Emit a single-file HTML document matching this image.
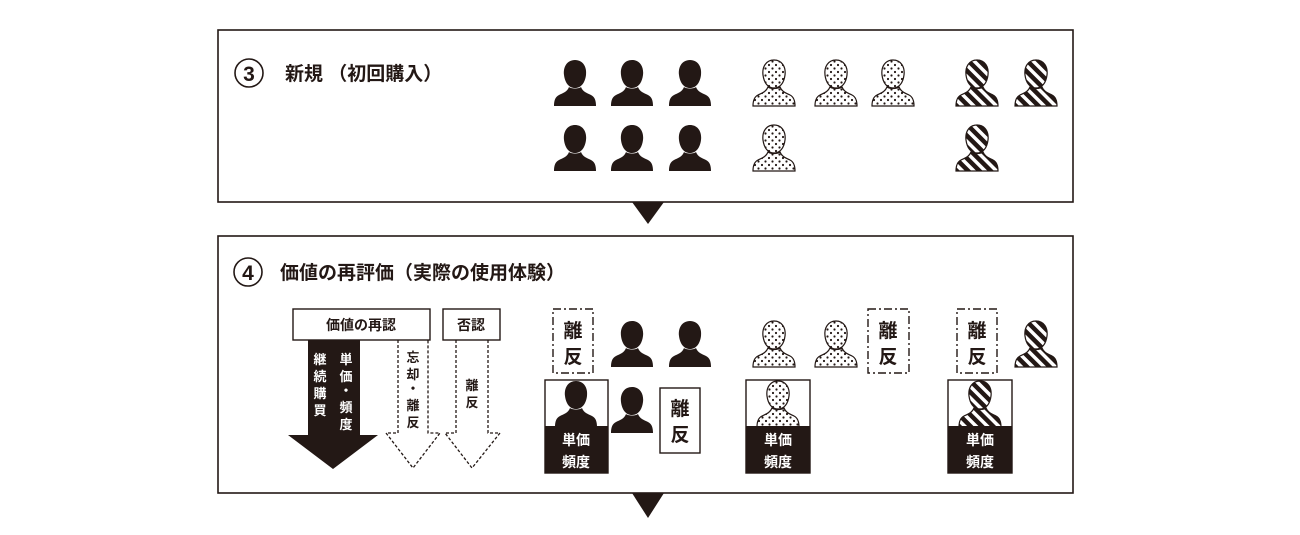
<!DOCTYPE html>
<html><head><meta charset="utf-8"><style>
html,body{margin:0;padding:0;background:#fff}
svg text{font-family:"Liberation Sans","Noto Sans CJK JP",sans-serif;font-weight:bold;fill:#231815}
</style></head><body>
<svg width="1300" height="530" viewBox="0 0 1300 530" xmlns="http://www.w3.org/2000/svg">
<defs>
<pattern id="dots" width="7" height="7" patternUnits="userSpaceOnUse"><rect width="7" height="7" fill="#fff"/><circle cx="2" cy="2" r="1.1" fill="#231815"/><circle cx="5.5" cy="5.5" r="1.1" fill="#231815"/></pattern>
<pattern id="stripes" width="8" height="8" patternUnits="userSpaceOnUse" patternTransform="rotate(-45)"><rect width="8" height="8" fill="#fff"/><rect width="4.5" height="8" fill="#231815"/></pattern>
<path id="p" d="M0,-24 C8,-24 12,-17 11,-9 C10,-1 6,4 0,4 C-6,4 -10,-1 -11,-9 C-12,-17 -8,-24 0,-24 Z M-6,3 C-8,8 -12,9 -16,11 C-20,13 -21,17 -21,22 L21,22 C21,17 20,13 16,11 C12,9 8,8 6,3 C4,5 -4,5 -6,3 Z"/>
</defs>
<g fill="none" stroke="#231815" stroke-width="1.6">
<rect x="218" y="30" width="855" height="172"/>
<rect x="218" y="236" width="855" height="257"/>
</g>
<polygon points="632,202 664,202 648,224" fill="#231815"/>
<polygon points="632,493 664,493 648,518" fill="#231815"/>
<circle cx="249" cy="73" r="14" fill="none" stroke="#231815" stroke-width="1.6"/>
<text x="249" y="81" font-size="21" text-anchor="middle" font-weight="normal">3</text>
<text x="285" y="80" font-size="19">新規 （初回購入）</text>
<circle cx="248" cy="272" r="14" fill="none" stroke="#231815" stroke-width="1.6"/>
<text x="248" y="280" font-size="21" text-anchor="middle" font-weight="normal">4</text>
<text x="280" y="279" font-size="19">価値の再評価（実際の使用体験）</text>
<!-- top persons -->
<g fill="#231815">
<use href="#p" x="575" y="84"/><use href="#p" x="632" y="84"/><use href="#p" x="690" y="84"/>
<use href="#p" x="575" y="149"/><use href="#p" x="632" y="149"/><use href="#p" x="690" y="149"/>
</g>
<g fill="url(#dots)" stroke="#231815" stroke-width="1.2">
<use href="#p" x="774" y="84"/><use href="#p" x="836" y="84"/><use href="#p" x="893" y="84"/>
<use href="#p" x="774" y="149"/>
</g>
<g fill="url(#stripes)" stroke="#231815" stroke-width="1.2">
<use href="#p" x="977" y="84"/><use href="#p" x="1036" y="84"/>
<use href="#p" x="977" y="149"/>
</g>
<!-- arrows -->
<rect x="293" y="309" width="137" height="31" fill="#fff" stroke="#231815" stroke-width="1.4"/>
<text x="361" y="330" font-size="14" text-anchor="middle">価値の再認</text>
<rect x="443" y="309" width="57" height="31" fill="#fff" stroke="#231815" stroke-width="1.4"/>
<text x="471" y="330" font-size="14" text-anchor="middle">否認</text>
<polygon points="308,340 360,340 360,435 378,435 333,469 288,435 308,435" fill="#231815"/>
<g font-size="13" style="fill:#fff">
<text x="320" y="364" style="fill:#fff" text-anchor="middle">継</text><text x="320" y="381" style="fill:#fff" text-anchor="middle">続</text><text x="320" y="398" style="fill:#fff" text-anchor="middle">購</text><text x="320" y="415" style="fill:#fff" text-anchor="middle">買</text>
<text x="346" y="364" style="fill:#fff" text-anchor="middle">単</text><text x="346" y="381" style="fill:#fff" text-anchor="middle">価</text><text x="346" y="395" style="fill:#fff" text-anchor="middle">・</text><text x="346" y="412" style="fill:#fff" text-anchor="middle">頻</text><text x="346" y="429" style="fill:#fff" text-anchor="middle">度</text>
</g>
<g fill="none" stroke="#231815" stroke-width="1.3" stroke-dasharray="3,2">
<polyline points="398,340 398,433 386,433 413,468 440,433 428,433 428,340"/>
<polyline points="456,340 456,433 445,433 472,468 500,433 488,433 488,340"/>
</g>
<g font-size="13" text-anchor="middle">
<text x="413" y="362">忘</text><text x="413" y="379">却</text><text x="413" y="393">・</text><text x="413" y="410">離</text><text x="413" y="427">反</text>
<text x="472" y="390">離</text><text x="472" y="407">反</text>
</g>
<!-- bottom section -->
<g fill="none" stroke="#231815" stroke-width="1.4" stroke-dasharray="8,3,2,3">
<rect x="553" y="309" width="40" height="64"/>
<rect x="868" y="309" width="41" height="64"/>
<rect x="957" y="309" width="40" height="64"/>
</g>
<g font-size="19" text-anchor="middle">
<text x="573" y="337">離</text><text x="573" y="363">反</text>
<text x="888" y="337">離</text><text x="888" y="363">反</text>
<text x="977" y="337">離</text><text x="977" y="363">反</text>
<text x="680" y="415">離</text><text x="680" y="441">反</text>
</g>
<rect x="660" y="388" width="40" height="65" fill="none" stroke="#231815" stroke-width="1.4"/>
<g fill="#231815">
<use href="#p" x="632" y="345"/><use href="#p" x="690" y="345"/>
<use href="#p" x="632" y="411"/>
</g>
<g fill="url(#dots)" stroke="#231815" stroke-width="1.2">
<use href="#p" x="774" y="345"/><use href="#p" x="836" y="345"/>
</g>
<use href="#p" x="1036" y="345" fill="url(#stripes)" stroke="#231815" stroke-width="1.2"/>
<!-- framed boxes -->
<g>
<rect x="545" y="380" width="63" height="93" fill="#fff" stroke="#231815" stroke-width="1.4"/>
<use href="#p" x="576" y="405" fill="#231815"/>
<rect x="545" y="426" width="63" height="47" fill="#231815"/>
<text x="576" y="445" font-size="14" text-anchor="middle" style="fill:#fff">単価</text>
<text x="576" y="467" font-size="14" text-anchor="middle" style="fill:#fff">頻度</text>
</g>
<g>
<rect x="746" y="380" width="64" height="93" fill="#fff" stroke="#231815" stroke-width="1.4"/>
<use href="#p" x="778" y="405" fill="url(#dots)" stroke="#231815" stroke-width="1.2"/>
<rect x="746" y="426" width="64" height="47" fill="#231815"/>
<text x="778" y="445" font-size="14" text-anchor="middle" style="fill:#fff">単価</text>
<text x="778" y="467" font-size="14" text-anchor="middle" style="fill:#fff">頻度</text>
</g>
<g>
<rect x="948" y="380" width="64" height="93" fill="#fff" stroke="#231815" stroke-width="1.4"/>
<use href="#p" x="980" y="405" fill="url(#stripes)" stroke="#231815" stroke-width="1.2"/>
<rect x="948" y="426" width="64" height="47" fill="#231815"/>
<text x="980" y="445" font-size="14" text-anchor="middle" style="fill:#fff">単価</text>
<text x="980" y="467" font-size="14" text-anchor="middle" style="fill:#fff">頻度</text>
</g>
</svg>
</body></html>
